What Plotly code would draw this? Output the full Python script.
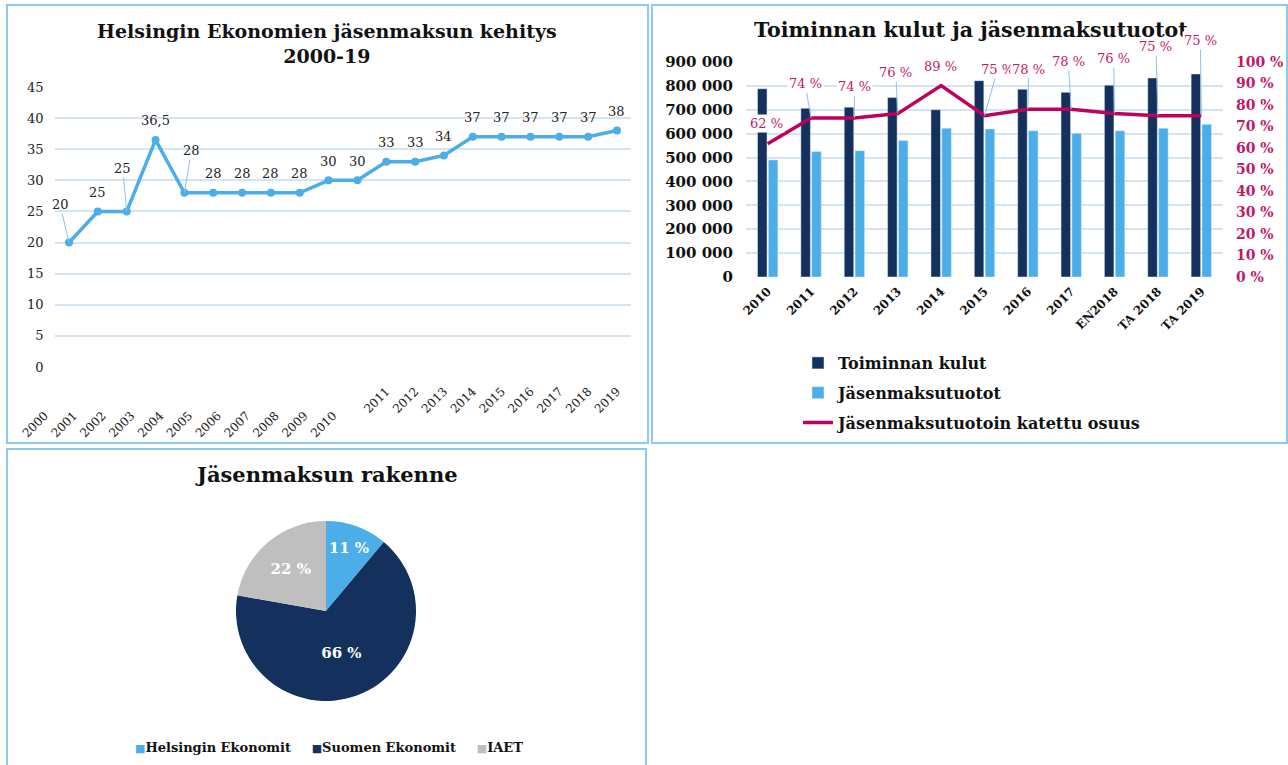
import plotly.graph_objects as go

# ---------------- data ----------------
years_left = [str(y) for y in range(2000, 2020)]
fee = [20, 25, 25, 36.5, 28, 28, 28, 28, 28, 30, 30, 33, 33, 34, 37, 37, 37, 37, 37, 38]
left_yticks = [0, 5, 10, 15, 20, 25, 30, 35, 40, 45]

cat_right = ["2010", "2011", "2012", "2013", "2014", "2015", "2016", "2017", "EN2018", "TA 2018", "TA 2019"]
costs = [788000, 706000, 711000, 751000, 700000, 822000, 786000, 773000, 803000, 833000, 850000]
income = [490000, 525000, 529000, 571000, 623000, 620000, 612000, 602000, 612000, 623000, 639000]
coverage = [62, 74, 74, 76, 89, 75, 78, 78, 76, 75, 75]
money_ticks = [0, 100000, 200000, 300000, 400000, 500000, 600000, 700000, 800000, 900000]
pct_ticks = [0, 10, 20, 30, 40, 50, 60, 70, 80, 90, 100]

pie_labels = ["Helsingin Ekonomit", "Suomen Ekonomit", "IAET"]
pie_values = [11, 66, 22]

# ---------------- style ----------------
W, H = 1288, 765
FONT = "DejaVu Serif"
NAVY = "#13315C"
LBLUE = "#4BAEE8"
GREY = "#BFBFBF"
CRIMSON = "#C0005E"
PINK = "#C2186A"
GRID = "#D3E4F4"
BORDER = "#8DC9EE"
LEADER = "#8FC1E8"
PIE_COLORS = [LBLUE, NAVY, GREY]


def fx(p):
    return p / W


def fy(p):
    return 1 - p / H


xi_left = list(range(len(years_left)))
xi_right = list(range(len(cat_right)))

fig = go.Figure()

# ---- chart 1: line ----
fig.add_trace(go.Scatter(
    x=xi_left, y=fee, mode="lines+markers",
    line=dict(color=LBLUE, width=3.5), marker=dict(color=LBLUE, size=8),
    xaxis="x", yaxis="y", showlegend=False,
    customdata=years_left, hovertemplate="%{customdata}: %{y}<extra></extra>"))

# ---- chart 2: bars + line ----
fig.add_trace(go.Bar(x=xi_right, y=costs, name="Toiminnan kulut", marker_color=NAVY,
                     xaxis="x2", yaxis="y2", legendgroup="a", legend="legend"))
fig.add_trace(go.Bar(x=xi_right, y=income, name="Jäsenmaksutuotot", marker_color=LBLUE,
                     xaxis="x2", yaxis="y2", legendgroup="b", legend="legend"))
fig.add_trace(go.Scatter(x=xi_right, y=coverage, name="Jäsenmaksutuotoin katettu osuus",
                         mode="lines", line=dict(color=CRIMSON, width=3.5),
                         xaxis="x2", yaxis="y3", legendgroup="c", legend="legend"))

# ---- chart 3: pie ----
fig.add_trace(go.Pie(
    labels=pie_labels, values=pie_values, sort=False, direction="clockwise", rotation=0,
    marker=dict(colors=PIE_COLORS),
    text=[f"{v} %" for v in pie_values], textinfo="text", textposition="inside",
    insidetextorientation="horizontal",
    textfont=dict(family=FONT, size=15, color="white", weight="bold"),
    domain=dict(x=[fx(236), fx(416)], y=[fy(701), fy(521)]),
    showlegend=False, hoverinfo="label+percent"))

# ---------------- annotations ----------------
ann = []
# titles
ann.append(dict(text="<b>Helsingin Ekonomien jäsenmaksun kehitys<br>2000-19</b>",
                x=fx(327), y=fy(43), xref="paper", yref="paper", showarrow=False,
                xanchor="center", yanchor="middle",
                font=dict(family=FONT, size=19, color="#111")))
ann.append(dict(text="<b>Toiminnan kulut ja jäsenmaksutuotot</b>",
                x=fx(971), y=fy(30), xref="paper", yref="paper", showarrow=False,
                xanchor="center", yanchor="middle",
                font=dict(family=FONT, size=20.6, color="#111")))
ann.append(dict(text="<b>Jäsenmaksun rakenne</b>",
                x=fx(326), y=fy(474), xref="paper", yref="paper", showarrow=False,
                xanchor="center", yanchor="middle",
                font=dict(family=FONT, size=21, color="#111")))

# pie legend (compact, as in the original)
pie_legend = "\u00a0\u00a0\u00a0\u00a0\u00a0".join(
    f'<span style="color:{c};font-size:11px">■</span><b>{lab}</b>'
    for lab, c in zip(pie_labels, PIE_COLORS))
ann.append(dict(text=pie_legend, x=fx(329), y=fy(747), xref="paper", yref="paper",
                showarrow=False, xanchor="center", yanchor="middle",
                font=dict(family=FONT, size=13, color="#111")))

# line-chart value labels (offset in px: dx, dy)
left_offsets = {0: (-9, -38), 2: (-4, -43), 4: (7, -42)}
for i, v in zip(xi_left, fee):
    txt = str(v).replace(".", ",")
    if i in left_offsets:
        ax, ay = left_offsets[i]
        ann.append(dict(x=i, y=v, xref="x", yref="y", text=txt, showarrow=True,
                        ax=ax, ay=ay, arrowhead=0, arrowwidth=1, arrowcolor=LEADER,
                        standoff=0, font=dict(family=FONT, size=13, color="#222")))
    else:
        ann.append(dict(x=i, y=v, xref="x", yref="y", text=txt, showarrow=False,
                        yshift=19, font=dict(family=FONT, size=13, color="#222")))

# percentage labels (offset px, leader flag)
pct_offsets = [(-1, -20, False), (-6, -34, True), (0, -31, True), (-2, -41, True),
               (-1, -19, False), (13, -46, True), (1, -40, True), (-3, -48, True),
               (-1, -55, True), (-2, -69, True), (-1, -75, True)]
for i, v, (ax, ay, lead) in zip(xi_right, coverage, pct_offsets):
    ann.append(dict(x=i, y=v, xref="x2", yref="y3", text=f"{v} %", showarrow=True,
                    ax=ax, ay=ay, arrowhead=0, arrowwidth=1 if lead else 0.1,
                    arrowcolor=LEADER if lead else "rgba(0,0,0,0)", standoff=0,
                    bgcolor="white", borderpad=1,
                    font=dict(family=FONT, size=13, color=PINK)))

# ---------------- borders ----------------
shapes = []
for (x0, y0, x1, y1) in [(7, 5, 648, 443), (652, 5, 1287, 443), (7, 449, 646, 766)]:
    shapes.append(dict(type="rect", xref="paper", yref="paper",
                       x0=fx(x0), x1=fx(x1), y0=fy(y1), y1=fy(y0),
                       line=dict(color=BORDER, width=2), fillcolor="rgba(0,0,0,0)", layer="above"))

# tick text for left x-axis (first eleven labels sit lower in the original)
PAD = "\u00a0" * 9
left_ticktext = [y + PAD if i <= 10 else y for i, y in enumerate(years_left)]

fig.update_layout(
    width=W, height=H, margin=dict(l=0, r=0, t=0, b=0, autoexpand=False),
    paper_bgcolor="white", plot_bgcolor="white",
    separators=", ",
    font=dict(family=FONT, color="#222"),
    bargap=0.5, bargroupgap=0.12,
    annotations=ann, shapes=shapes,
    xaxis=dict(domain=[fx(54.6), fx(631.4)], anchor="y", range=[-0.5, 19.5],
               tickvals=xi_left, ticktext=left_ticktext, tickangle=-45,
               tickfont=dict(family=FONT, size=12, color="#222"),
               showgrid=False, showline=False, ticks="", zeroline=False, automargin=False,
               ticklabelstandoff=14),
    yaxis=dict(domain=[fy(367), fy(87)], anchor="x", range=[0, 45],
               tickvals=left_yticks, tickfont=dict(family=FONT, size=13, color="#222"),
               showgrid=True, gridcolor=GRID, gridwidth=1.5, zeroline=False, ticks="",
               ticklabelstandoff=10, automargin=False),
    xaxis2=dict(domain=[fx(746), fx(1223)], anchor="y2", range=[-0.5, 10.5],
                tickvals=xi_right, ticktext=cat_right,
                tickangle=-45, tickfont=dict(family=FONT, size=12, color="#111", weight="bold"),
                showgrid=False, showline=False, ticks="", zeroline=False, automargin=False,
                ticklabelstandoff=4),
    yaxis2=dict(domain=[fy(277), fy(62)], anchor="x2", range=[0, 900000],
                tickvals=money_ticks, tickformat=",d",
                tickfont=dict(family=FONT, size=15, color="#111", weight="bold"),
                showgrid=True, gridcolor=GRID, gridwidth=1.5, zeroline=False, ticks="",
                ticklabelstandoff=12, automargin=False),
    yaxis3=dict(overlaying="y2", anchor="x2", side="right", range=[0, 100],
                tickvals=pct_ticks, ticktext=[f"{p} %" for p in pct_ticks],
                tickfont=dict(family=FONT, size=14, color=PINK, weight="bold"),
                showgrid=False, zeroline=False, ticks="", ticklabelstandoff=12, automargin=False),
    legend=dict(x=fx(798), y=fy(346), xanchor="left", yanchor="top",
                orientation="v", traceorder="grouped", tracegroupgap=6,
                itemwidth=30, bgcolor="rgba(0,0,0,0)",
                font=dict(family=FONT, size=16, color="#111", weight="bold")),
)

fig.write_html(
    "out.html",
    config={"displayModeBar": False},
    post_script="document.body.style.margin='0';document.body.style.overflow='hidden';"
                "document.documentElement.style.overflow='hidden';",
)
